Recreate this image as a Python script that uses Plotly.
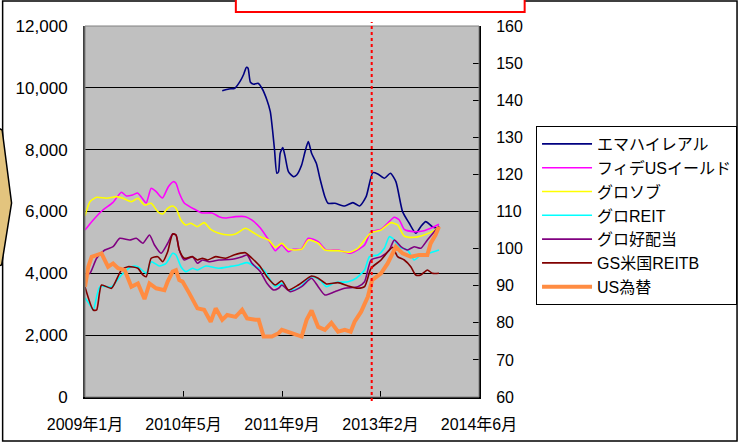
import plotly.graph_objects as go

# ---- Data (x = months since 2009年1月) ----
emah_x = [22.64, 23.74, 24.72, 25.65, 26.20, 26.64, 26.90, 27.29, 27.83, 28.54, 29.19, 30.01, 30.57, 30.94, 31.27,
          31.65, 31.93, 32.20, 32.63, 33.02, 33.56, 34.38, 34.92, 35.74, 36.30, 36.84, 37.38, 38.20, 38.75, 39.57,
          40.10, 41.21, 42.85, 44.20, 45.30, 46.38, 47.48, 48.30, 49.39, 50.38, 51.29, 52.39, 53.49, 54.57, 55.39,
          56.21, 57.30, 58.12]
emah_y = [9909, 9964, 9986, 10232, 10449, 10666, 10634, 10181, 10116, 10148, 9986, 9608, 9229, 8637, 7990,
          7237, 7288, 7884, 8065, 7774, 7288, 7127, 7182, 7505, 7935, 8259, 7884, 7538, 7075, 6480,
          6266, 6266, 6179, 6286, 6179, 6480, 7256, 7214, 7075, 7237, 6965, 5995, 5619, 5296, 5509,
          5671, 5509, 5457]

fide_x = [0.0, 1.36, 2.95, 4.58, 6.01, 6.83, 7.86, 8.68, 9.28, 10.10, 10.92, 11.74, 12.77, 13.75, 14.57, 15.01,
          15.55, 16.37, 18.29, 19.32, 20.96, 22.10, 23.20, 24.84, 26.47, 27.50, 28.93, 30.29, 31.39, 32.42, 33.56,
          34.38, 35.69, 36.84, 38.47, 39.78, 41.75, 43.66, 44.70, 46.12, 47.20, 48.84, 49.93, 51.03, 51.85, 52.67,
          54.31, 55.94, 57.02, 58.40]
fide_y = [5402, 5726, 6049, 6286, 6622, 6502, 6535, 6599, 6470, 6276, 6751, 6641, 6438, 6803, 6965, 6913,
          6599, 6276, 6049, 5952, 5952, 5833, 5791, 5833, 5833, 5726, 5467, 5079, 4733, 4917, 4700,
          4778, 4778, 5134, 5024, 4755, 4755, 4649, 4733, 4917, 5347, 5425, 5619, 5813, 5726, 5425,
          5347, 5380, 5457, 5587]

glosov_x = [0.0, 0.82, 1.92, 3.55, 5.19, 6.27, 7.65, 8.73, 9.82, 10.92, 12.00, 12.82, 13.64, 14.46, 15.01, 15.83,
            16.65, 17.47, 18.55, 19.65, 20.74, 22.10, 23.74, 24.84, 26.47, 27.55, 28.93, 30.29, 31.39, 32.47,
            33.56, 35.74, 36.84, 38.47, 39.57, 41.75, 43.66, 45.02, 46.12, 47.20, 48.84, 50.47, 51.57, 52.67,
            54.31, 55.94, 57.58, 58.40]
glosov_y = [5855, 6318, 6460, 6428, 6480, 6428, 6318, 6428, 6211, 6266, 5995, 5920, 6104, 6179, 6104, 5726,
            5564, 5619, 5509, 5639, 5425, 5296, 5241, 5273, 5457, 5347, 5186, 5079, 4843, 4972,
            4778, 4778, 5079, 4972, 4755, 4733, 4681, 4810, 5079, 5315, 5402, 5639, 5564, 5208,
            5166, 5241, 5380, 5509]

greit_x = [0.0, 0.82, 1.36, 2.46, 4.37, 6.01, 7.65, 8.73, 10.10, 10.92, 12.28, 13.38, 14.46, 15.01, 15.83, 16.65,
           17.73, 18.55, 19.92, 22.10, 23.74, 25.38, 26.74, 28.11, 29.47, 30.57, 31.39, 32.47, 33.56, 35.20,
           37.38, 38.75, 39.83, 41.21, 43.39, 44.74, 46.12, 46.94, 48.30, 49.39, 50.21, 51.03, 51.85, 53.21,
           54.31, 55.39, 57.02, 58.40]
greit_y = [3203, 2976, 2814, 3568, 3568, 3947, 4215, 4215, 4002, 4377, 4238, 4325, 4649, 4594, 4215, 4054,
           4163, 4108, 4238, 4163, 4215, 4270, 4345, 4215, 4108, 3785, 3568, 3678, 3461, 3516,
           3892, 3785, 3568, 3698, 3730, 3840, 4108, 4539, 4594, 4810, 5186, 5079, 4843, 4755,
           4432, 4594, 4668, 4755]

gdiv_x = [0.0, 0.82, 1.92, 3.27, 4.63, 5.73, 7.37, 8.46, 9.54, 10.64, 11.46, 12.56, 13.64, 14.46, 15.01, 15.55,
          16.37, 17.73, 18.55, 19.37, 20.46, 22.10, 24.28, 25.92, 26.74, 27.55, 28.93, 30.01, 31.11, 31.93,
          32.47, 33.84, 35.74, 37.38, 38.47, 39.57, 41.21, 42.85, 45.02, 46.12, 47.20, 48.84, 50.21, 51.03,
          52.11, 53.21, 54.31, 55.39, 56.48, 58.40]
gdiv_y = [3947, 4002, 4487, 4755, 4862, 5134, 5079, 5134, 4972, 5241, 4917, 4649, 4972, 5273, 5241, 4755,
          4432, 4539, 4325, 4432, 4377, 4432, 4455, 4539, 4594, 4325, 4054, 3678, 3461, 3516,
          3623, 3407, 3568, 3840, 3568, 3300, 3407, 3516, 3568, 3730, 4432, 4539, 4755, 5079,
          4862, 4755, 4862, 4810, 5079, 5532]

gsus_x = [0.0, 1.36, 1.92, 2.73, 4.37, 6.01, 7.09, 8.73, 9.54, 10.10, 10.92, 12.00, 12.82, 13.64, 14.46, 15.01,
          15.55, 16.37, 17.73, 18.55, 19.37, 20.19, 21.56, 23.20, 24.56, 26.47, 27.55, 28.93, 30.01, 31.39,
          32.47, 33.56, 35.20, 37.38, 38.47, 39.83, 41.75, 43.39, 45.02, 46.12, 47.20, 48.84, 50.21, 50.75,
          51.57, 52.67, 53.75, 54.57, 55.39, 56.48, 57.30, 58.40]
gsus_y = [3559, 2814, 2814, 3623, 3516, 4108, 4215, 4163, 3947, 3892, 4487, 4539, 4377, 4700, 5273, 5241,
          4755, 4487, 4539, 4432, 4487, 4432, 4539, 4487, 4594, 4668, 4487, 4215, 3892, 3623,
          3762, 3461, 3623, 3914, 3840, 3656, 3698, 3591, 3516, 3568, 4163, 4432, 4755, 4843,
          4539, 4432, 4215, 3947, 3947, 4108, 4002, 4002]

usd_x = [0.0, 0.54, 1.10, 1.92, 2.73, 3.00, 3.81, 4.63, 5.45, 6.55, 7.65, 8.73, 9.82, 10.64, 11.74, 13.10,
         13.64, 14.46, 15.01, 15.55, 16.09, 17.19, 18.55, 19.65, 20.74, 21.56, 22.64, 23.46, 24.84, 25.92,
         26.74, 28.11, 28.65, 29.47, 30.83, 31.93, 32.47, 34.10, 35.74, 36.56, 37.38, 38.47, 39.57, 40.65,
         41.75, 42.85, 43.83, 44.48, 45.56, 46.66, 47.36, 48.84, 49.93, 51.29, 51.85, 52.39, 53.75, 55.13,
         56.48, 57.02, 57.84, 58.40]
usd_y = [89.7, 95.1, 97.8, 98.3, 98.7, 97.8, 95.1, 96.0, 94.7, 94.2, 89.7, 90.6, 86.4, 90.6, 89.3, 88.8,
         91.1, 93.8, 94.2, 91.5, 91.1, 88.0, 83.9, 83.5, 80.3, 83.9, 80.8, 82.1, 81.6, 83.5,
         81.2, 80.8, 80.8, 76.3, 76.3, 77.2, 78.1, 77.2, 76.3, 80.8, 83.3, 78.9, 78.1, 80.0,
         77.6, 78.1, 77.6, 80.3, 83.0, 87.0, 91.5, 93.3, 96.0, 100.5, 99.6, 98.7, 97.8, 98.3,
         98.3, 101.4, 103.7, 105.9]

x_tickvals = [0, 16.25, 32.5, 48.75, 65]
x_ticktext = ["2009年1月", "2010年5月", "2011年9月", "2013年2月", "2014年6月"]
left_ticks = [0, 2000, 4000, 6000, 8000, 10000, 12000]
right_ticks = [60, 70, 80, 90, 100, 110, 120, 130, 140, 150, 160]
marker_month = 47.3  # red dotted line (2013年1月頃)

FONT = "Liberation Sans, Arial, Noto Sans CJK JP, sans-serif"

# ---- geometry helpers (pixel -> paper) ----
W, H = 749, 444
PL, PR, PT, PB = 85, 482, 26, 397


def px(x):
    return (x - PL) / (PR - PL)


def py(y):
    return (PB - y) / (PB - PT)


fig = go.Figure()
series = [
    ("エマハイレアル", emah_x, emah_y, "#000080", 1.6, "y", "spline"),
    ("フィデUSイールド", fide_x, fide_y, "#FF00FF", 1.6, "y", "spline"),
    ("グロソブ", glosov_x, glosov_y, "#FFFF00", 1.6, "y", "spline"),
    ("グロREIT", greit_x, greit_y, "#00FFFF", 1.6, "y", "spline"),
    ("グロ好配当", gdiv_x, gdiv_y, "#800080", 1.6, "y", "spline"),
    ("GS米国REITB", gsus_x, gsus_y, "#800000", 1.6, "y", "spline"),
    ("US為替", usd_x, usd_y, "#FF8C42", 4, "y2", "linear"),
]
for name, xs, ys, col, w, ax, shp in series:
    line = dict(color=col, width=w, shape=shp)
    if shp == "spline":
        line["smoothing"] = 0.6
    fig.add_trace(go.Scatter(x=xs, y=ys, name=name, mode="lines", yaxis=ax, line=line,
                             hoverinfo="skip"))

shapes = [
    # outer frame
    dict(type="rect", xref="paper", yref="paper", x0=px(2), x1=px(742), y0=py(441), y1=py(1),
         line=dict(color="black", width=1.5), fillcolor="rgba(0,0,0,0)", layer="below"),
    # red box at top
    dict(type="rect", xref="paper", yref="paper", x0=px(237), x1=px(528), y0=py(12), y1=py(-5),
         line=dict(color="#FF0000", width=2), fillcolor="white", layer="above"),
    # tan arrow shape on left edge
    dict(type="path", xref="paper", yref="paper",
         path=f"M {px(-2)},{py(128)} L {px(1.5)},{py(130)} L {px(11)},{py(203)} L {px(1)},{py(265)} L {px(-2)},{py(266)} Z",
         line=dict(color="black", width=1.5), fillcolor="#E3C47E", layer="above"),
    # plot area border
    dict(type="rect", xref="paper", yref="paper", x0=0, x1=1, y0=0, y1=1,
         line=dict(color="#808080", width=1), fillcolor="rgba(0,0,0,0)", layer="above"),
    # red dotted marker line
    dict(type="line", xref="x", yref="paper", x0=marker_month, x1=marker_month, y0=py(401), y1=py(22),
         line=dict(color="#FF0000", width=2, dash="dot"), layer="above"),
]

fig.update_layout(
    width=W, height=H,
    margin=dict(l=PL, r=W - PR, t=PT, b=H - PB, pad=0),
    paper_bgcolor="white", plot_bgcolor="#C0C0C0",
    font=dict(family=FONT, size=16, color="black"),
    showlegend=True,
    legend=dict(x=px(742), y=py(126), xanchor="right", yanchor="top",
                bgcolor="white", bordercolor="black", borderwidth=1,
                font=dict(family=FONT, size=16, color="black"),
                itemwidth=50, tracegroupgap=0),
    xaxis=dict(range=[0, 65], tickvals=x_tickvals, ticktext=x_ticktext,
               ticks="inside", ticklen=6, tickcolor="black", tickwidth=1,
               showline=True, linecolor="black", linewidth=2, showgrid=False, zeroline=False,
               ticklabelstandoff=12, tickfont=dict(size=16)),
    yaxis=dict(range=[0, 12000], tickvals=left_ticks, tickformat=",",
               showgrid=True, gridcolor="black", gridwidth=1,
               showline=True, linecolor="#404040", linewidth=2, zeroline=False,
               ticks="", ticklabelstandoff=12, tickfont=dict(size=17)),
    yaxis2=dict(range=[60, 160], tickvals=right_ticks, overlaying="y", side="right",
                showgrid=False, zeroline=False, showline=True, linecolor="black", linewidth=2,
                ticks="inside", ticklen=6, tickcolor="black", ticklabelstandoff=12,
                tickfont=dict(size=16)),
    shapes=shapes,
)

fig.write_html("out.html", config={"displayModeBar": False},
               post_script="document.body.style.margin='0';document.body.style.overflow='hidden';")
